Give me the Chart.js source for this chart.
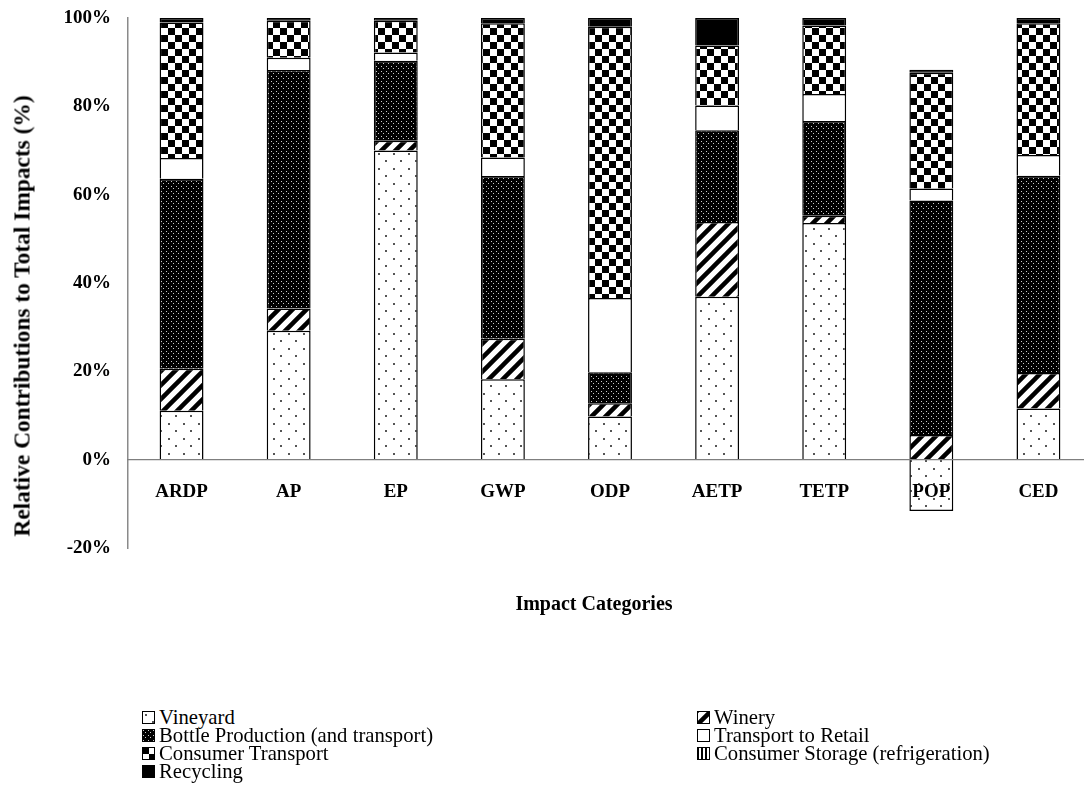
<!DOCTYPE html>
<html>
<head>
<meta charset="utf-8">
<script src="https://cdn.jsdelivr.net/npm/chart.js@4"></script>
<style>
  html, body { margin: 0; padding: 0; background: #fff; }
  body {
    width: 1084px; height: 793px; overflow: hidden; position: relative;
    font-family: 'Liberation Serif', 'Times New Roman', serif; color: #000;
  }
  #plot { position: absolute; left: 0; top: 0; }
  .axis-title { position: absolute; font-weight: bold; white-space: nowrap; }
  #xTitle { left: 594px; top: 603px; transform: translate(-50%, -50%); font-size: 20px; }
  #yTitle { left: 22px; top: 316px; transform: translate(-50%, -50%) rotate(-90deg); font-size: 23.4px; }
  #legend {
    position: absolute; left: 142px; top: 708px;
    display: grid; grid-template-columns: 555px auto; grid-auto-rows: 18px;
    font-size: 20.7px; line-height: 18px;
  }
  .item { display: flex; align-items: center; white-space: nowrap; }
  .item canvas { margin-right: 4px; flex: none; }
</style>
</head>
<body>
<canvas id="plot" width="1100" height="640"></canvas>
<div id="yTitle" class="axis-title">Relative Contributions to Total Impacts (%)</div>
<div id="xTitle" class="axis-title">Impact Categories</div>
<div id="legend"></div>
<script>
// Impact categories and the share (%) of each life-cycle stage
const categories = ['ARDP', 'AP', 'EP', 'GWP', 'ODP', 'AETP', 'TETP', 'POP', 'CED'];
const vineyard          = [11.1, 29.2, 70.0, 18.2,  9.8, 36.9, 53.6, -11.6, 11.6];
const winery            = [ 9.5,  5.0,  2.2,  9.2,  3.0, 16.9,  1.6,   5.6,  8.0];
const bottleProduction  = [43.0, 54.0, 18.1, 36.8,  7.0, 20.8, 21.5,  53.1, 44.7];
const transportRetail   = [ 4.7,  2.8,  1.9,  4.2, 16.8,  5.6,  6.1,   2.7,  4.7];
const consumerTransport = [30.7,  8.4,  7.2, 30.4, 61.4, 13.6, 15.5,  26.2, 29.8];
const consumerStorage   = [ 0.0,  0.0,  0.0,  0.0,  0.0,  0.0,  0.0,   0.0,  0.0];
const recycling         = [ 1.0,  0.6,  0.6,  1.2,  2.0,  6.2,  1.7,   0.7,  1.2];

const seriesNames = [
  'Vineyard', 'Winery', 'Bottle Production (and transport)', 'Transport to Retail',
  'Consumer Transport', 'Consumer Storage (refrigeration)', 'Recycling'
];
const seriesValues = [vineyard, winery, bottleProduction, transportRetail,
                      consumerTransport, consumerStorage, recycling];
const yTickValues = [-20, 0, 20, 40, 60, 80, 100];

const serif = "'Liberation Serif', 'Times New Roman', serif";

// Monochrome fill patterns, one per stage
function tile(w, h, paint) {
  const c = document.createElement('canvas');
  c.width = w; c.height = h;
  paint(c.getContext('2d'), w, h);
  return c;
}
const tiles = [
  // dotted
  tile(15, 15, (g) => {
    g.fillStyle = '#fff'; g.fillRect(0, 0, 15, 15);
    g.fillStyle = '#555'; g.fillRect(3, 3, 2, 2); g.fillRect(10, 10, 2, 2);
  }),
  // wide diagonal stripes
  tile(14, 14, (g) => {
    g.fillStyle = '#fff'; g.fillRect(0, 0, 14, 14);
    g.strokeStyle = '#000'; g.lineWidth = 4.5;
    g.beginPath();
    g.moveTo(-2, 16); g.lineTo(16, -2);
    g.moveTo(-2, 2); g.lineTo(2, -2);
    g.moveTo(12, 16); g.lineTo(16, 12);
    g.stroke();
  }),
  // dark with fine light dots
  tile(10, 5, (g) => {
    g.fillStyle = '#000'; g.fillRect(0, 0, 10, 5);
    g.fillStyle = '#c8c8c8';
    g.fillRect(1, 1, 1, 1); g.fillRect(6, 1, 1, 1);
    g.fillRect(3, 3, 1, 1); g.fillRect(8, 3, 1, 1);
  }),
  // plain white
  tile(2, 2, (g) => { g.fillStyle = '#fff'; g.fillRect(0, 0, 2, 2); }),
  // checkerboard
  tile(14, 14, (g) => {
    g.fillStyle = '#fff'; g.fillRect(0, 0, 14, 14);
    g.fillStyle = '#000'; g.fillRect(0, 0, 7, 7); g.fillRect(7, 7, 7, 7);
  }),
  // vertical lines
  tile(4, 4, (g) => {
    g.fillStyle = '#fff'; g.fillRect(0, 0, 4, 4);
    g.fillStyle = '#000'; g.fillRect(0, 0, 2, 4);
  }),
  // solid black
  tile(2, 2, (g) => { g.fillStyle = '#000'; g.fillRect(0, 0, 2, 2); })
];

const ctx = document.getElementById('plot').getContext('2d');
const fills = tiles.map(t => ctx.createPattern(t, 'repeat'));

const datasets = seriesNames.map((name, i) => ({
  label: name,
  data: seriesValues[i],
  backgroundColor: fills[i],
  borderColor: '#000',
  borderWidth: 1.5,
  barPercentage: 0.41,
  categoryPercentage: 1.0
}));

new Chart(ctx, {
  type: 'bar',
  data: { labels: categories, datasets },
  options: {
    responsive: false,
    animation: false,
    devicePixelRatio: 1,
    layout: { padding: { top: 18, right: 8, bottom: 92, left: 0 } },
    plugins: { legend: { display: false }, tooltip: { enabled: false } },
    scales: {
      x: {
        stacked: true,
        position: { y: 0 },
        grid: { display: false, drawTicks: false },
        border: { display: true, color: '#7f7f7f', width: 1.2, z: 1 },
        ticks: {
          z: 2,
          color: '#000', padding: 21, maxRotation: 0, autoSkip: false,
          font: { family: serif, size: 19, weight: 'bold' }
        },
        afterFit: (s) => { s.height = 0; }
      },
      y: {
        stacked: true,
        min: -20, max: 100,
        grid: { display: false, drawTicks: false },
        border: { display: true, color: '#8a8a8a', width: 1.5 },
        afterBuildTicks: (s) => { s.ticks = yTickValues.map(v => ({ value: v })); },
        afterFit: (s) => { s.width = 128; s.paddingTop = 0; s.paddingBottom = 0; },
        ticks: {
          color: '#000', padding: 17,
          font: { family: serif, size: 19, weight: 'bold' },
          callback: (v) => v + '%'
        }
      }
    }
  }
});

// Legend: two columns, filled in row order
const legend = document.getElementById('legend');
seriesNames.forEach((name, i) => {
  const item = document.createElement('div');
  item.className = 'item';
  const sw = document.createElement('canvas');
  sw.width = 13; sw.height = 13;
  const g = sw.getContext('2d');
  g.fillStyle = g.createPattern(tiles[i], 'repeat');
  g.fillRect(0, 0, 13, 13);
  g.strokeStyle = '#000'; g.lineWidth = 1;
  g.strokeRect(0.5, 0.5, 12, 12);
  item.appendChild(sw);
  const label = document.createElement('span');
  label.textContent = name;
  item.appendChild(label);
  legend.appendChild(item);
});
</script>
</body>
</html>
